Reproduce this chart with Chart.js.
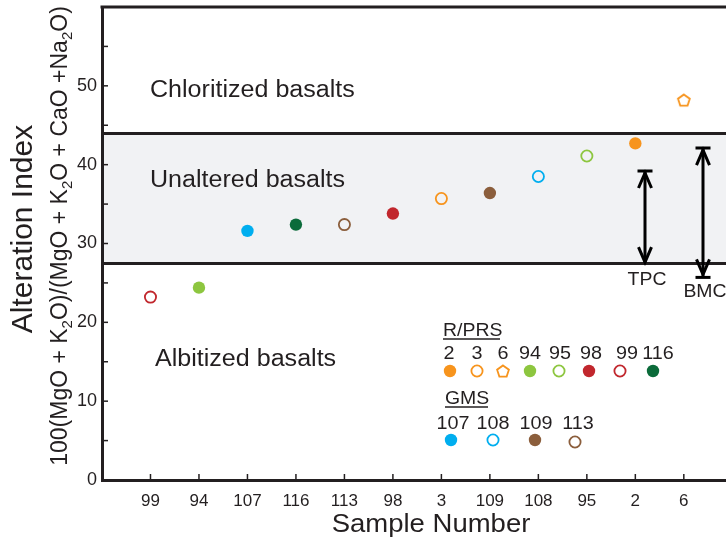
<!DOCTYPE html>
<html>
<head>
<meta charset="utf-8">
<script src="https://cdn.jsdelivr.net/npm/chart.js@4.4.1/dist/chart.umd.min.js"></script>
<style>
  html, body { margin: 0; padding: 0; background: #fff; }
  #wrap { width: 726px; height: 541px; }
</style>
</head>
<body>
<div id="wrap"><canvas id="aiChart" width="726" height="541"></canvas></div>
<script>
// samples in the order they sit on the x axis
var samples = ['99', '94', '107', '116', '113', '98', '3', '109', '108', '95', '2', '6'];
// alteration index
var aiValues = [23.2, 24.4, 31.6, 32.4, 32.4, 33.8, 35.7, 36.4, 38.5, 41.1, 42.7, 48.2];
var sampleColors = ['#c1272d', '#8dc63f', '#00aeef', '#0b6b3a', '#8b5e3c', '#c1272d',
                    '#f7941d', '#8b5e3c', '#00aeef', '#8dc63f', '#f7941d', '#f7941d'];
var sampleFilled = [false, true, true, true, false, true, false, true, false, false, true, false];
var pentagonSamples = ['6'];
// y ticks (labels only on the tens)
var yTicks = [0, 5, 10, 15, 20, 25, 30, 35, 40, 45, 50, 55];
// field limits
var unalteredRange = [27.5, 44.0];
var tpcRange = [27.5, 39.2];
var bmcRange = [25.7, 42.1];
// legend groups
var rprsLabels = ['2', '3', '6', '94', '95', '98', '99', '116'];
var gmsLabels = ['107', '108', '109', '113'];

var FONT = '"Liberation Sans", Arial, Helvetica, sans-serif';
var INK = '#231f20';

// open pentagon used for sample 6
function makePentagon(color) {
  var c = document.createElement('canvas');
  c.width = 16; c.height = 16;
  var g = c.getContext('2d');
  g.strokeStyle = color;
  g.lineWidth = 1.8;
  g.beginPath();
  for (var k = 0; k < 5; k++) {
    var a = -Math.PI / 2 + k * 2 * Math.PI / 5;
    var px = 8 + 6.2 * Math.cos(a), py = 8.6 + 6.2 * Math.sin(a);
    if (k === 0) g.moveTo(px, py); else g.lineTo(px, py);
  }
  g.closePath();
  g.stroke();
  return c;
}
var pentagon = makePentagon('#f7941d');

var pointStyles = samples.map(function(s) {
  return pentagonSamples.indexOf(s) >= 0 ? pentagon : 'circle';
});
var pointBg = samples.map(function(s, i) { return sampleFilled[i] ? sampleColors[i] : 'rgba(0,0,0,0)'; });
var pointRadius = samples.map(function(s, i) { return sampleFilled[i] ? 6.2 : 5.6; });
var pointBorder = samples.map(function(s, i) { return sampleFilled[i] ? 0 : 1.8; });

function stretchText(ctx, text, x, y, align, sx) {
  ctx.save();
  ctx.translate(x, y);
  ctx.scale(sx, 1);
  ctx.textAlign = align;
  ctx.textBaseline = 'alphabetic';
  ctx.fillText(text, 0, 0);
  ctx.restore();
}

function drawMarker(ctx, label, x, y) {
  var i = samples.indexOf(label);
  var col = sampleColors[i];
  if (pentagonSamples.indexOf(label) >= 0) {
    ctx.drawImage(pentagon, x - 8, y - 8);
    return;
  }
  ctx.beginPath();
  if (sampleFilled[i]) {
    ctx.arc(x, y, 6.2, 0, Math.PI * 2);
    ctx.fillStyle = col;
    ctx.fill();
  } else {
    ctx.arc(x, y, 5.6, 0, Math.PI * 2);
    ctx.strokeStyle = col;
    ctx.lineWidth = 1.8;
    ctx.stroke();
  }
}

function arrowHead(ctx, x, tipY, dir) {
  // dir = -1 points up, +1 points down
  ctx.beginPath();
  ctx.moveTo(x - 6.5, tipY - dir * 15);
  ctx.lineTo(x, tipY);
  ctx.lineTo(x + 6.5, tipY - dir * 15);
  ctx.stroke();
}

var backgroundPlugin = {
  id: 'fields',
  beforeDraw: function(chart) {
    var ctx = chart.ctx, a = chart.chartArea, y = chart.scales.y;
    var top = y.getPixelForValue(unalteredRange[1]);
    var bot = y.getPixelForValue(unalteredRange[0]);
    ctx.save();
    ctx.fillStyle = '#f1f2f4';
    ctx.fillRect(a.left, top, a.right - a.left, bot - top);
    ctx.restore();
  },
  beforeDatasetsDraw: function(chart) {
    var ctx = chart.ctx, a = chart.chartArea, x = chart.scales.x, y = chart.scales.y;
    ctx.save();
    ctx.strokeStyle = INK;
    ctx.lineWidth = 3;
    // field boundaries
    unalteredRange.forEach(function(v) {
      var py = Math.round(y.getPixelForValue(v)) + 0.5;
      ctx.beginPath();
      ctx.moveTo(a.left, py);
      ctx.lineTo(a.right, py);
      ctx.stroke();
    });
    // top frame
    ctx.beginPath();
    ctx.moveTo(a.left - 1.5, a.top);
    ctx.lineTo(a.right, a.top);
    ctx.stroke();
    // inward ticks
    ctx.lineWidth = 1.5;
    yTicks.forEach(function(v) {
      var py = y.getPixelForValue(v);
      ctx.beginPath();
      ctx.moveTo(a.left, py);
      ctx.lineTo(a.left + 6, py);
      ctx.stroke();
    });
    samples.forEach(function(s, i) {
      var px = x.getPixelForValue(i);
      ctx.beginPath();
      ctx.moveTo(px, a.bottom);
      ctx.lineTo(px, a.bottom - 6);
      ctx.stroke();
    });
    ctx.restore();
  },
  afterDatasetsDraw: function(chart) {
    var ctx = chart.ctx, x = chart.scales.x, y = chart.scales.y;
    ctx.save();
    ctx.fillStyle = INK;

    // field names
    ctx.font = '23px ' + FONT;
    stretchText(ctx, 'Chloritized basalts', 150, 97, 'left', 1.09);
    stretchText(ctx, 'Unaltered basalts', 150, 187, 'left', 1.09);
    stretchText(ctx, 'Albitized basalts', 155, 366, 'left', 1.09);

    // TPC and BMC ranges
    ctx.strokeStyle = '#000';
    ctx.lineWidth = 3;
    [[10.19, tpcRange, 'TPC', 285, true], [11.40, bmcRange, 'BMC', 297, false]].forEach(function(r) {
      var px = Math.round(x.getPixelForValue(r[0]));
      var yTop = y.getPixelForValue(r[1][1]);
      var yBot = y.getPixelForValue(r[1][0]);
      ctx.beginPath();
      ctx.moveTo(px - 7.5, yTop); ctx.lineTo(px + 7.5, yTop);
      ctx.moveTo(px, yTop + 1); ctx.lineTo(px, yBot - 1);
      ctx.stroke();
      arrowHead(ctx, px, yTop + 2, -1);
      if (r[4]) {
        arrowHead(ctx, px, yBot - 1, 1);
      } else {
        ctx.beginPath();
        ctx.moveTo(px - 7.5, yBot); ctx.lineTo(px + 7.5, yBot);
        ctx.stroke();
        arrowHead(ctx, px, yBot - 3, 1);
      }
      ctx.font = '18px ' + FONT;
      stretchText(ctx, r[2], px + 2, r[3], 'center', 1.08);
    });

    // legend
    ctx.font = '18px ' + FONT;
    ctx.lineWidth = 1.5;
    ctx.strokeStyle = INK;
    stretchText(ctx, 'R/PRS', 443, 336, 'left', 1.08);
    ctx.beginPath(); ctx.moveTo(443, 339); ctx.lineTo(500, 339); ctx.stroke();
    var rprsText = [449, 477, 503, 530, 560, 591, 627, 658];
    var rprsMark = [450, 477, 503, 530, 559, 589, 620, 653];
    rprsLabels.forEach(function(l, i) {
      ctx.fillStyle = INK;
      stretchText(ctx, l, rprsText[i], 359, 'center', 1.1);
      drawMarker(ctx, l, rprsMark[i], 371);
    });
    ctx.fillStyle = INK;
    ctx.strokeStyle = INK;
    ctx.lineWidth = 1.5;
    stretchText(ctx, 'GMS', 445, 404, 'left', 1.08);
    ctx.beginPath(); ctx.moveTo(445, 407); ctx.lineTo(488, 407); ctx.stroke();
    var gmsText = [453, 493, 536, 578];
    var gmsMark = [451, 493, 535, 575];
    var gmsMarkY = [440, 440, 440, 442];
    gmsLabels.forEach(function(l, i) {
      ctx.fillStyle = INK;
      stretchText(ctx, l, gmsText[i], 429, 'center', 1.1);
      drawMarker(ctx, l, gmsMark[i], gmsMarkY[i]);
    });

    // axis titles
    ctx.fillStyle = INK;
    ctx.font = '25px ' + FONT;
    stretchText(ctx, 'Sample Number', 431, 532, 'center', 1.1);

    ctx.save();
    ctx.translate(32, 229);
    ctx.rotate(-Math.PI / 2);
    ctx.font = '30px ' + FONT;
    ctx.textAlign = 'center';
    ctx.fillText('Alteration Index', 0, 0);
    ctx.restore();

    var parts = [['100(MgO + K', 0], ['2', 1], ['O)/(MgO + K', 0], ['2', 1],
                 ['O + CaO +Na', 0], ['2', 1], ['O)', 0]];
    var big = '23px ' + FONT, small = '15px ' + FONT;
    var total = 0;
    parts.forEach(function(p) { ctx.font = p[1] ? small : big; total += ctx.measureText(p[0]).width; });
    ctx.save();
    ctx.translate(67, 236);
    ctx.rotate(-Math.PI / 2);
    ctx.textAlign = 'left';
    var cx = -total / 2;
    parts.forEach(function(p) {
      ctx.font = p[1] ? small : big;
      ctx.fillText(p[0], cx, p[1] ? 5 : 0);
      cx += ctx.measureText(p[0]).width;
    });
    ctx.restore();

    ctx.restore();
  }
};

var chartData = {
  datasets: [{
    label: 'Alteration index',
    data: aiValues.map(function(v, i) { return { x: i, y: v }; }),
    showLine: false,
    pointStyle: pointStyles,
    pointRadius: pointRadius,
    pointBackgroundColor: pointBg,
    pointBorderColor: sampleColors,
    pointBorderWidth: pointBorder
  }]
};

var aiChart = new Chart(document.getElementById('aiChart').getContext('2d'), {
  type: 'scatter',
  data: chartData,
  options: {
    responsive: false,
    animation: false,
    layout: { autoPadding: false, padding: { top: 7, right: 0, left: 0, bottom: 0 } },
    plugins: { legend: { display: false }, tooltip: { enabled: false } },
    scales: {
      x: {
        type: 'linear',
        min: -1,
        max: 11.87,
        afterBuildTicks: function(axis) {
          axis.ticks = samples.map(function(s, i) { return { value: i }; });
        },
        afterFit: function(scale) {
          scale.height = 61;
          scale.paddingLeft = 0; scale.paddingRight = 0;
        },
        ticks: {
          autoSkip: false,
          maxRotation: 0,
          padding: 11,
          color: INK,
          font: { family: FONT, size: 17 },
          callback: function(v) { return samples[v]; }
        },
        grid: { display: false, drawTicks: false, tickLength: 0 },
        border: { display: true, width: 3, color: INK }
      },
      y: {
        min: 0,
        max: 60,
        afterBuildTicks: function(axis) {
          axis.ticks = yTicks.map(function(v) { return { value: v }; });
        },
        afterFit: function(scale) {
          scale.width = 102;
          scale.paddingTop = 0; scale.paddingBottom = 0;
        },
        ticks: {
          padding: 5,
          color: INK,
          font: { family: FONT, size: 18 },
          callback: function(v) { return v % 10 === 0 ? v : ''; }
        },
        grid: { display: false, drawTicks: false, tickLength: 0 },
        border: { display: true, width: 3, color: INK }
      }
    }
  },
  plugins: [backgroundPlugin]
});
</script>
</body>
</html>
